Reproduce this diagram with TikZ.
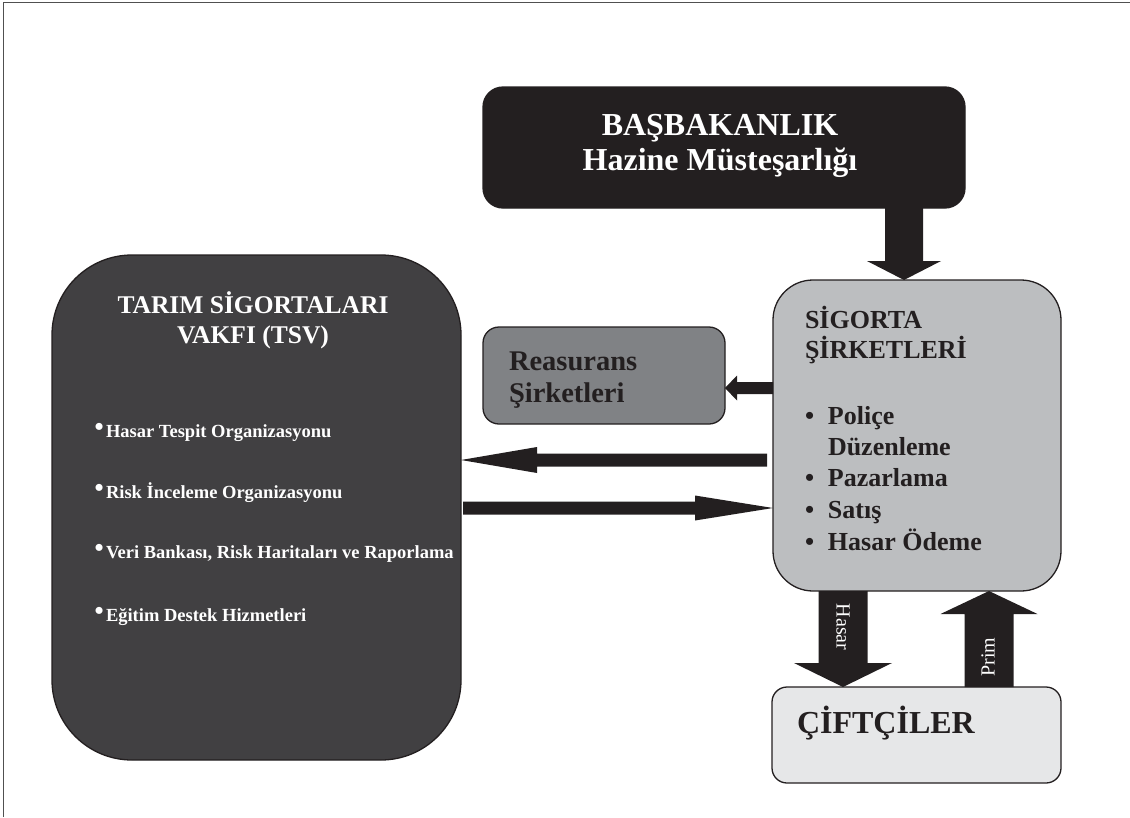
\documentclass[tikz,border=0pt]{standalone}
\usepackage{fontspec}
\setmainfont{Liberation Serif}
\usetikzlibrary{calc}
\definecolor{ink}{HTML}{231F20}
\definecolor{tsvgray}{HTML}{414042}
\definecolor{regray}{HTML}{808285}
\definecolor{sggray}{HTML}{BCBEC0}
\definecolor{cfgray}{HTML}{E6E7E8}
\definecolor{framegray}{HTML}{505050}
\newcommand\fatarrow[5]{%
  \coordinate (hb) at ($(#2)!#5!(#1)$);
  \fill[arrowfill] ($(#1)!#3!90:(#2)$) -- ($(hb)!#3!90:(#2)$) -- ($(hb)!#4!90:(#2)$) -- (#2)
    -- ($(hb)!#4!-90:(#2)$) -- ($(hb)!#3!-90:(#2)$) -- ($(#1)!#3!-90:(#2)$) -- cycle;}
\newcommand\tsvbullet{\raisebox{1.5pt}{\fontsize{26}{26}\selectfont•}\kern2.4pt}
\begin{document}
\begin{tikzpicture}[x=1pt,y=-1pt,
  box/.style={draw=ink, line width=1.3pt, anchor=north west, inner sep=0pt, outer sep=0pt},
  arrowfill/.style={fill=ink},
  txt/.style={inner sep=0pt, outer sep=0pt},
  whitebold/.style={txt, text=white, font=\bfseries#1},
  darkbold/.style={txt, text=ink, font=\bfseries#1}
]
\useasboundingbox (0,0) rectangle (1130,817);
% frame
\draw[framegray, line width=1.6pt] (3.5,817) -- (3.5,2.5) -- (1130,2.5);

% boxes
\node[box, fill=ink, rounded corners=20pt, minimum width=482pt, minimum height=121pt] (bb) at (483,87) {};
\node[box, fill=tsvgray, rounded corners=80pt, minimum width=409pt, minimum height=505pt] (tsv) at (52,255) {};
\node[box, fill=regray, rounded corners=16pt, minimum width=242pt, minimum height=97pt] (re) at (483,327) {};
\node[box, fill=sggray, rounded corners=40pt, minimum width=288pt, minimum height=311pt] (sg) at (773,280) {};
\node[box, fill=cfgray, rounded corners=15pt, minimum width=289pt, minimum height=96pt] (cf) at (772,687) {};

% texts in BAŞBAKANLIK
\node[whitebold={\fontsize{32}{35}\selectfont}, anchor=base] (bbt1) at (720,135) {BAŞBAKANLIK};
\node[whitebold={\fontsize{32}{35}\selectfont}, anchor=base] (bbt2) at (720,170) {Hazine Müsteşarlığı};

% TSV
\node[whitebold={\fontsize{25.5}{30}\selectfont}, anchor=base] (tsvt1) at (253,313) {TARIM SİGORTALARI};
\node[whitebold={\fontsize{25.5}{30}\selectfont}, anchor=base] (tsvt2) at (253,343) {VAKFI (TSV)};
\node[whitebold={\fontsize{18.5}{22}\selectfont}, anchor=base west] (tsvb1) at (94.5,437) {\tsvbullet Hasar Tespit Organizasyonu};
\node[whitebold={\fontsize{18.5}{22}\selectfont}, anchor=base west] (tsvb2) at (94.5,498) {\tsvbullet Risk İnceleme Organizasyonu};
\node[whitebold={\fontsize{18.5}{22}\selectfont}, anchor=base west] (tsvb3) at (94.5,558) {\tsvbullet Veri Bankası, Risk Haritaları ve Raporlama};
\node[whitebold={\fontsize{18.5}{22}\selectfont}, anchor=base west] (tsvb4) at (94.5,621) {\tsvbullet Eğitim Destek Hizmetleri};

% Reasurans
\node[darkbold={\fontsize{28.5}{32}\selectfont}, anchor=base west] (ret1) at (509,370) {Reasurans};
\node[darkbold={\fontsize{28.5}{32}\selectfont}, anchor=base west] (ret2) at (509,402) {Şirketleri};

% Sigorta
\node[darkbold={\fontsize{26}{30}\selectfont}, anchor=base west] (sgt1) at (805,328) {SİGORTA};
\node[darkbold={\fontsize{26}{30}\selectfont}, anchor=base west] (sgt2) at (805,358) {ŞİRKETLERİ};
\node[darkbold={\fontsize{26}{30}\selectfont}, anchor=base west] (sgb1) at (805,424) {\makebox[23pt][l]{•}Poliçe};
\node[darkbold={\fontsize{26}{30}\selectfont}, anchor=base west] (sgb1b) at (805,455) {\makebox[23pt][l]{}Düzenleme};
\node[darkbold={\fontsize{26}{30}\selectfont}, anchor=base west] (sgb2) at (805,486) {\makebox[23pt][l]{•}Pazarlama};
\node[darkbold={\fontsize{26}{30}\selectfont}, anchor=base west] (sgb3) at (805,518) {\makebox[23pt][l]{•}Satış};
\node[darkbold={\fontsize{26}{30}\selectfont}, anchor=base west] (sgb4) at (805,550) {\makebox[23pt][l]{•}Hasar Ödeme};

% Ciftciler
\node[darkbold={\fontsize{32}{36}\selectfont}, anchor=base west] (cft) at (797,733) {ÇİFTÇİLER};

% arrow endpoints
\coordinate (a1s) at ($(bb.south west)+(421,0)$);
\coordinate (a1e) at ($(sg.north west)+(131,0)$);
\coordinate (a2s) at ($(sg.north west)+(0,108)$);
\coordinate (a2e) at ($(re.north east)+(0,61)$);
\coordinate (a3s) at ($(sg.north west)+(-6,180)$);
\coordinate (a3e) at ($(tsv.north east)+(0,205)$);
\coordinate (a4s) at ($(tsv.north east)+(2,253)$);
\coordinate (a4e) at ($(sg.north west)+(0,228)$);
\coordinate (a5s) at ($(sg.south west)+(70,0)$);
\coordinate (a5e) at ($(cf.north west)+(71,0)$);
\coordinate (a6s) at ($(cf.north west)+(217,0)$);
\coordinate (a6e) at ($(sg.south west)+(216,0)$);

\fatarrow{a1s}{a1e}{19pt}{37pt}{19pt}
\fatarrow{a2s}{a2e}{6pt}{12.5pt}{12pt}
\fatarrow{a3s}{a3e}{6.5pt}{13pt}{76pt}
\fatarrow{a4s}{a4e}{6.5pt}{12.5pt}{78pt}
\fatarrow{a5s}{a5e}{24.5pt}{49pt}{24pt}
\fatarrow{a6s}{a6e}{24.5pt}{48.5pt}{23pt}

% arrow labels
\node[txt, text=white, font=\fontsize{20}{24}\selectfont, rotate=-90] (lhasar) at (843,627) {Hasar};
\node[txt, text=white, font=\fontsize{20}{24}\selectfont, rotate=90] (lprim) at (988,657) {Prim};
\end{tikzpicture}
\end{document}
